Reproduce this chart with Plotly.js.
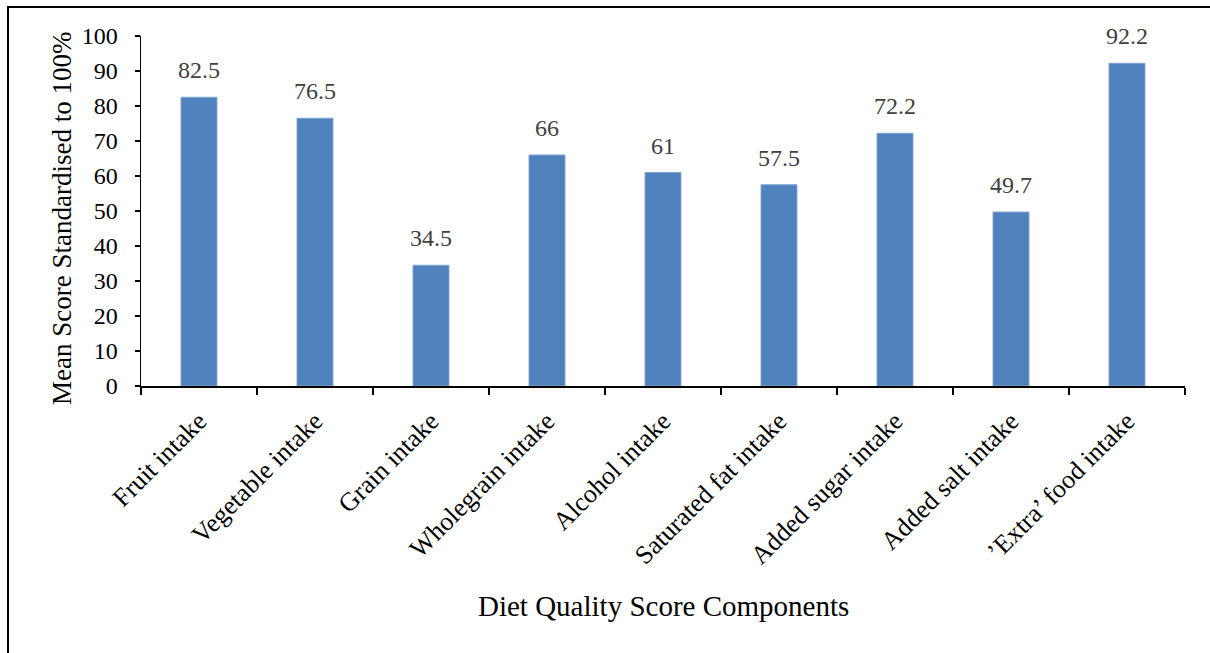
<!DOCTYPE html>
<html><head><meta charset="utf-8">
<script src="https://cdn.plot.ly/plotly-3.0.1.min.js"></script>
<style>html,body{margin:0;padding:0;background:#fff}</style>
</head><body>
<div id="chart" style="width:1210px;height:653px"></div>
<script>
const categories = ["Fruit intake","Vegetable intake","Grain intake","Wholegrain intake","Alcohol intake","Saturated fat intake","Added sugar intake","Added salt intake","\u2019Extra\u2019 food intake"];
const scores = [82.5, 76.5, 34.5, 66, 61, 57.5, 72.2, 49.7, 92.2];
const labels = ["82.5","76.5","34.5","66","61","57.5","72.2","49.7","92.2"];
const yTicks = [0,10,20,30,40,50,60,70,80,90,100];
const xTitle = 'Diet Quality Score Components';
const yTitle = 'Mean Score Standardised to 100%';

const font = "'Liberation Serif', 'DejaVu Serif', serif";
const trace = {
  type: 'bar', x: categories, y: scores,
  marker: {color: '#4F81BD', line: {color: '#7FA3D3', width: 1}},
  hoverinfo: 'x+y'
};
const annotations = categories.map((c, i) => ({
  x: c, y: scores[i], xref: 'x', yref: 'y', text: labels[i],
  showarrow: false, yanchor: 'bottom', yshift: 12,
  font: {family: font, size: 24, color: '#404040'}
}));
annotations.push({
  xref: 'paper', yref: 'paper', x: 0.5005, y: -0.6286, text: xTitle,
  showarrow: false, xanchor: 'center', yanchor: 'middle',
  font: {family: font, size: 29, color: '#000'}
});
annotations.push({
  xref: 'paper', yref: 'paper', x: -0.0757, y: 0.48, text: yTitle, textangle: -90,
  showarrow: false, xanchor: 'center', yanchor: 'middle',
  font: {family: font, size: 27, color: '#000'}
});
const layout = {
  width: 1210, height: 653,
  margin: {l: 141, r: 25, t: 36, b: 267},
  paper_bgcolor: '#fff', plot_bgcolor: '#fff',
  bargap: 0.69, showlegend: false,
  font: {family: font, color: '#000'},
  xaxis: {
    type: 'category', tickangle: -45, tickson: 'boundaries',
    ticks: 'outside', ticklen: 7, tickcolor: '#000', tickwidth: 1.5,
    showline: true, linecolor: '#000', linewidth: 1.5,
    tickfont: {family: font, size: 26, color: '#000'}, ticklabelstandoff: 8,
    showgrid: false, zeroline: false
  },
  yaxis: {
    range: [0, 100], tickvals: yTicks, ticks: 'outside', ticklen: 5, tickcolor: '#000', tickwidth: 1.5,
    showline: true, linecolor: '#000', linewidth: 1.5,
    tickfont: {family: font, size: 24, color: '#000'}, ticklabelstandoff: 12,
    showgrid: false, zeroline: false
  },
  annotations: annotations,
  shapes: [{type: 'rect', xref: 'paper', yref: 'paper', x0: -0.1274, x1: 2, y0: -2, y1: 1.083,
    line: {color: '#000', width: 2}, fillcolor: 'rgba(0,0,0,0)', layer: 'above'}]
};
Plotly.newPlot('chart', [trace], layout, {displayModeBar: false, staticPlot: true});
</script>
</body></html>
